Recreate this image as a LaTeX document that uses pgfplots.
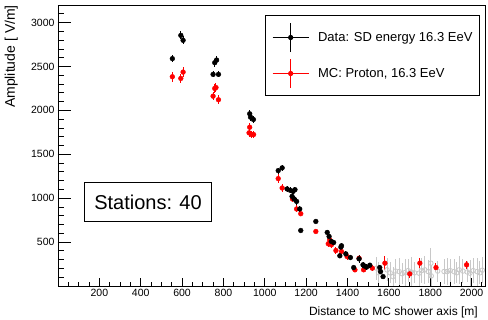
\documentclass[border=0pt]{standalone}
\usepackage{pgfplots}
\usepackage{pgfplotstable}
\pgfplotsset{compat=1.18}
\usepackage{fontspec}
\setmainfont{Liberation Sans}
\definecolor{lgray}{RGB}{200,200,200}

\pgfplotstableread{
x y e
553 2589 40
594 2854 45
605 2798 45
750 2410 35
758 2543 45
767 2573 45
776 2410 35
927 1961 45
931 1923 45
945 1896 40
1065 1314 35
1084 1345 35
1108 1105 35
1124 1089 35
1132 1021 35
1137 1078 35
1142 991 35
1146 1097 35
1154 963 35
1169 877 35
1174 632 20
1247 735 20
1302 610 30
1311 564 30
1322 507 30
1333 495 30
1363 344 30
1368 443 30
1371 458 30
1392 366 30
1414 324 30
1430 210 20
1456 309 45
1475 241 30
1480 229 30
1492 215 30
1508 237 30
1556 210 30
1560 164 30
1572 107 20
}\datatab

\pgfplotstableread{
x y e
553 2383 55
594 2364 55
605 2436 55
750 2162 45
758 2250 55
764 2260 55
776 2121 50
924 1744 45
927 1808 45
935 1725 40
946 1725 40
1065 1223 55
1084 1116 45
1134 991 40
1154 877 40
1174 823 30
1247 621 20
1307 481 40
1314 526 40
1322 469 40
1344 404 40
1371 393 40
1398 336 40
1436 184 30
1456 316 30
1478 184 30
1520 203 35
1581 260 80
1701 138 45
1750 260 60
1828 210 50
1976 241 45
}\mctab

\pgfplotstableread{
x y e
1540 203 130
1550 150 120
1591 184 130
1606 150 120
1620 107 110
1632 170 140
1650 164 150
1664 140 120
1678 153 160
1693 175 130
1708 160 170
1724 150 120
1746 146 150
1759 175 140
1774 184 160
1790 165 130
1803 260 170
1805 115 120
1836 170 120
1867 165 140
1882 164 150
1897 175 130
1915 164 140
1928 150 120
1940 184 160
1958 170 140
1979 160 120
1992 146 150
2008 175 140
2027 164 160
2040 150 130
2052 180 150
}\graytab

\begin{document}
\begin{tikzpicture}
\path[use as bounding box] (-58pt,-34pt) rectangle (430pt,286pt);
\begin{axis}[
  scale only axis, width=427pt, height=281pt,
  at={(0,0)}, anchor=south west,
  xmin=0, xmax=2065, ymin=0, ymax=3200,
  axis line style={line width=0.8pt},
  tick align=inside, xtick pos=bottom, ytick pos=left,
  xtick={200,400,...,2000}, minor xtick={0,50,...,2050},
  ytick={500,1000,...,3000}, minor ytick={0,100,...,3200},
  xtick style={line width=0.8pt, black, /pgfplots/major tick length=8.4pt, /pgfplots/minor tick length=4.2pt},
  ytick style={line width=0.8pt, black, /pgfplots/major tick length=12.8pt, /pgfplots/minor tick length=6.4pt},
  ticklabel style={font=\fontsize{10.5}{12}\selectfont},
  /pgf/number format/assume math mode=true,
  /pgf/number format/1000 sep={},
  scaled ticks=false,
  xlabel={Distance to MC shower axis [m]},
  ylabel={Amplitude [ V/m]},
  xlabel style={font=\fontsize{12}{14}\selectfont, inner sep=0pt, at={(axis description cs:0.9836,-0.0747)}, anchor=north east},
  ylabel style={font=\fontsize{14}{16}\selectfont, inner sep=0pt, at={(axis description cs:-0.0937,1)}, anchor=south east},
  legend style={at={(rel axis cs:0.988,0.964)}, anchor=north east, draw=black, line width=0.8pt,
    inner xsep=7pt, inner ysep=7pt, font=\fontsize{13}{15}\selectfont, row sep=6pt,
    nodes={inner sep=0pt}},
  legend cell align=left,
  reverse legend,
]
\addplot[forget plot, only marks, mark=o, color=lgray, mark size=2.3pt, line width=0.8pt,
  error bars/.cd, y dir=both, y explicit, error mark=none, error bar style={line width=0.8pt, lgray}]
  table[x=x,y=y,y error=e]{\graytab};
\addplot[only marks, mark=*, color=red, mark size=2.4pt,
  legend image code/.code={
    \draw[red, line width=1pt] (0pt,0pt) -- (36pt,0pt);
    \draw[red, line width=1pt] (18pt,-14.5pt) -- (18pt,14.5pt);
    \fill[red] (18pt,0pt) circle (2.2pt);
    \path (45pt,0pt);},
  error bars/.cd, y dir=both, y explicit, error mark=none, error bar style={line width=1pt, red}]
  table[x=x,y=y,y error=e]{\mctab};
\addlegendentry{MC: Proton, 16.3 EeV}
\addplot[only marks, mark=*, color=black, mark size=2.4pt,
  legend image code/.code={
    \draw[black, line width=1pt] (0pt,0pt) -- (36pt,0pt);
    \draw[black, line width=1pt] (18pt,-14.5pt) -- (18pt,14.5pt);
    \fill[black] (18pt,0pt) circle (2.2pt);
    \path (45pt,0pt);},
  error bars/.cd, y dir=both, y explicit, error mark=none, error bar style={line width=1pt, black}]
  table[x=x,y=y,y error=e]{\datatab};
\addlegendentry{Data: SD energy 16.3 EeV}
\node[draw=black, line width=0.8pt, fill=white, minimum width=127pt, minimum height=39pt,
  inner sep=0pt, font=\fontsize{20}{24}\selectfont] at (rel axis cs:0.2108,0.299) {Stations: 40};
\end{axis}
\end{tikzpicture}
\end{document}
